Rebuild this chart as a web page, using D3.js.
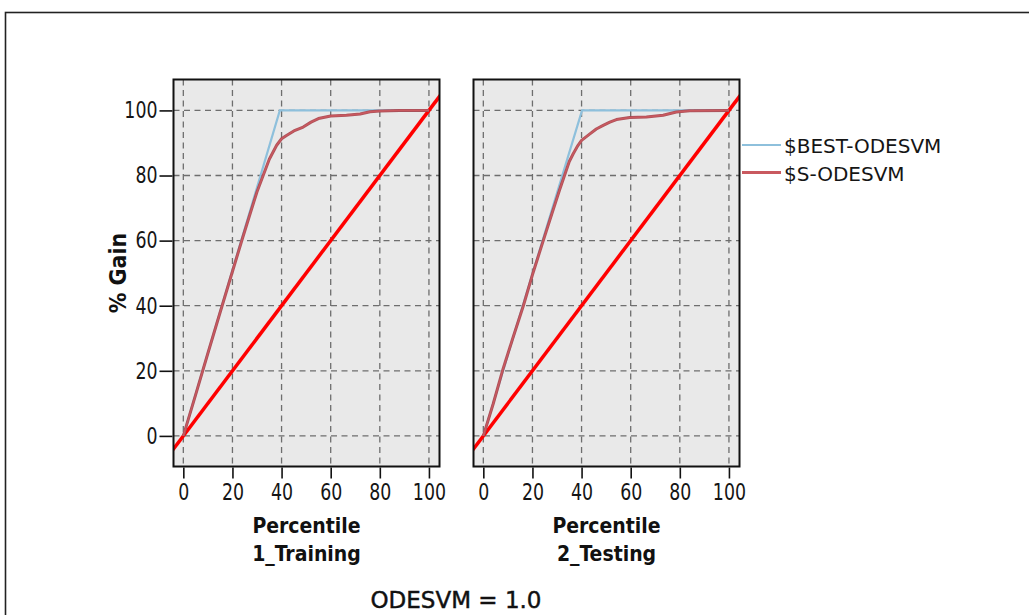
<!DOCTYPE html>
<html>
<head>
<meta charset="utf-8">
<script src="https://cdn.jsdelivr.net/npm/d3@7/dist/d3.min.js"></script>
<style>
  html, body { margin: 0; padding: 0; background: #ffffff; }
  svg { display: block; }
  .tick-label { font-family: "DejaVu Sans Condensed", "DejaVu Sans", sans-serif; font-size: 23px; fill: #151515; }
  .axis-title { font-family: "DejaVu Sans Condensed", "DejaVu Sans", sans-serif; font-weight: bold; font-size: 21px; fill: #111; }
  .y-title { font-size: 23px; }
  .legend-label { font-family: "DejaVu Sans", sans-serif; font-size: 20px; fill: #151515; }
  .footer { font-family: "DejaVu Sans", sans-serif; font-size: 23px; fill: #111; stroke: #111; stroke-width: 0.45px; }
</style>
</head>
<body>
<script>
// ---------------- data ----------------
const panels = ["1_Training", "2_Testing"];
const xTicks = [0, 20, 40, 60, 80, 100];
const yTicks = [0, 20, 40, 60, 80, 100];
const seriesNames = ["$BEST-ODESVM", "$S-ODESVM"];

// $BEST-ODESVM (perfect model) per panel
const bestTrainX = [0, 39.3, 100];
const bestTrainY = [0, 100, 100];
const bestTestX = [0, 40.2, 100];
const bestTestY = [0, 100, 100];

// $S-ODESVM per panel
const sTrainX = [0, 5, 10, 15, 20, 24, 27, 30, 32.5, 35, 38, 40, 42, 45, 48.8, 52, 55, 60, 66.4, 72, 76, 80, 88, 100];
const sTrainY = [0, 12.6, 25.4, 38, 50.5, 60.5, 67.8, 75, 80, 85, 89.3, 91.3, 92.3, 93.7, 94.9, 96.4, 97.5, 98.3, 98.5, 98.9, 99.6, 99.8, 100, 100];
const sTestX = [0, 4, 8, 12, 16.3, 20, 24.4, 28, 31, 33.5, 35, 36.6, 38.5, 40, 43.4, 46, 48.8, 51.5, 54.2, 59.6, 66.4, 73.2, 78.6, 84, 100];
const sTestY = [0, 9.8, 20.5, 30, 40, 49.5, 60, 68.5, 75.5, 81, 84.3, 86.7, 89.2, 90.8, 92.8, 94.3, 95.4, 96.4, 97.2, 97.8, 98, 98.5, 99.5, 99.9, 100];

// baseline (y = x)
const baseX = [-10, 110];
const baseY = [-10, 110];

const footerText = "ODESVM = 1.0";
const xTitle = "Percentile";
const yTitle = "% Gain";

// ---------------- layout ----------------
const W = 1029, H = 615;
const panelW = 266, panelH = 387;
const panelTop = 79.5;
const panelLefts = [173.5, 473.5];

const svg = d3.select("body").append("svg").attr("width", W).attr("height", H);

// outer frame
svg.append("rect").attr("x", 5.5).attr("y", 12.5).attr("width", 1040).attr("height", 640)
  .attr("fill", "none").attr("stroke", "#222").attr("stroke-width", 1.6);

const x = d3.scaleLinear().domain([-4, 104.3]).range([0, panelW]);
const y = d3.scaleLinear().domain([-9.4, 109.5]).range([panelH, 0]);

const line = d3.line().x(d => x(d[0])).y(d => y(d[1]));
const zip = (a, b) => a.map((v, i) => [v, b[i]]);

const panelData = [
  { name: panels[0], best: zip(bestTrainX, bestTrainY), s: zip(sTrainX, sTrainY) },
  { name: panels[1], best: zip(bestTestX, bestTestY), s: zip(sTestX, sTestY) }
];

const colors = { best: "#8ec0dc", s: "#c9595f", sEdge: "#a9434b", base: "#ff0000" };
const narrow = 0.84;

panelData.forEach((p, i) => {
  const g = svg.append("g").attr("transform", `translate(${panelLefts[i]},${panelTop})`);
  const clipId = "clip" + i;
  g.append("clipPath").attr("id", clipId).append("rect")
    .attr("x", 0).attr("y", 0).attr("width", panelW).attr("height", panelH);

  g.append("rect").attr("width", panelW).attr("height", panelH).attr("fill", "#e9e9e9");

  // grid
  g.append("g").selectAll("line").data(xTicks).join("line")
    .attr("x1", d => x(d)).attr("x2", d => x(d))
    .attr("y1", 0).attr("y2", panelH)
    .attr("stroke", "#6e6e6e").attr("stroke-width", 1.3).attr("stroke-dasharray", "6,4.5");
  g.append("g").selectAll("line").data(yTicks).join("line")
    .attr("y1", d => y(d)).attr("y2", d => y(d))
    .attr("x1", 0).attr("x2", panelW)
    .attr("stroke", "#6e6e6e").attr("stroke-width", 1.3).attr("stroke-dasharray", "6,4.5");

  const plot = g.append("g").attr("clip-path", `url(#${clipId})`);
  plot.append("path").datum(zip(baseX, baseY)).attr("d", line)
    .attr("fill", "none").attr("stroke", colors.base).attr("stroke-width", 3.5);
  plot.append("path").datum(p.best).attr("d", line)
    .attr("fill", "none").attr("stroke", colors.best).attr("stroke-width", 2.2);
  plot.append("path").datum(p.s).attr("d", line)
    .attr("fill", "none").attr("stroke", colors.sEdge).attr("stroke-width", 3)
    .attr("stroke-linejoin", "round").attr("opacity", 0.9);
  plot.append("path").datum(p.s).attr("d", line)
    .attr("fill", "none").attr("stroke", colors.s).attr("stroke-width", 1.4)
    .attr("stroke-linejoin", "round");

  // frame
  g.append("rect").attr("width", panelW).attr("height", panelH)
    .attr("fill", "none").attr("stroke", "#111").attr("stroke-width", 2);

  // x axis
  const xAxis = d3.axisBottom(x).tickValues(xTicks).tickSize(11).tickPadding(5);
  const xa = g.append("g").attr("transform", `translate(0,${panelH + 1})`).call(xAxis);
  xa.select(".domain").remove();
  xa.selectAll(".tick line").attr("stroke", "#111").attr("stroke-width", 1.6);
  xa.selectAll(".tick text").attr("class", "tick-label").attr("font-family", null).attr("font-size", null).attr("fill", null)
    .attr("transform", `scale(${narrow},1)`);

  // y axis (left panel only)
  if (i === 0) {
    const yAxis = d3.axisLeft(y).tickValues(yTicks).tickSize(13).tickPadding(2);
    const ya = g.append("g").attr("transform", "translate(-1,0)").call(yAxis);
    ya.select(".domain").remove();
    ya.selectAll(".tick line").attr("stroke", "#111").attr("stroke-width", 1.6);
    ya.selectAll(".tick text").attr("class", "tick-label").attr("font-family", null).attr("font-size", null).attr("fill", null)
      .attr("x", 0).attr("transform", `translate(-15,0) scale(${narrow},1)`);
  }

  // titles
  g.append("text").attr("class", "axis-title").attr("text-anchor", "middle")
    .attr("x", panelW / 2).attr("y", 533 - panelTop).text(xTitle);
  g.append("text").attr("class", "axis-title").attr("text-anchor", "middle")
    .attr("x", panelW / 2).attr("y", 561 - panelTop).text(p.name);
});

// y title
svg.append("text").attr("class", "axis-title y-title").attr("text-anchor", "middle")
  .attr("transform", `translate(126,${panelTop + panelH / 2}) rotate(-90)`).text(yTitle);

// legend
const legend = svg.append("g").attr("transform", "translate(742,0)");
const legendItems = [
  { name: seriesNames[0], color: colors.best, y: 145, w: 2.2 },
  { name: seriesNames[1], color: colors.s, y: 172.5, w: 2.8 }
];
legendItems.forEach(it => {
  legend.append("line").attr("x1", 0).attr("x2", 39).attr("y1", it.y).attr("y2", it.y)
    .attr("stroke", it.color).attr("stroke-width", it.w);
  legend.append("text").attr("class", "legend-label").attr("x", 42).attr("y", it.y + 8).text(it.name);
});

// footer
svg.append("text").attr("class", "footer").attr("text-anchor", "middle")
  .attr("x", 456).attr("y", 608).text(footerText);
</script>
</body>
</html>
